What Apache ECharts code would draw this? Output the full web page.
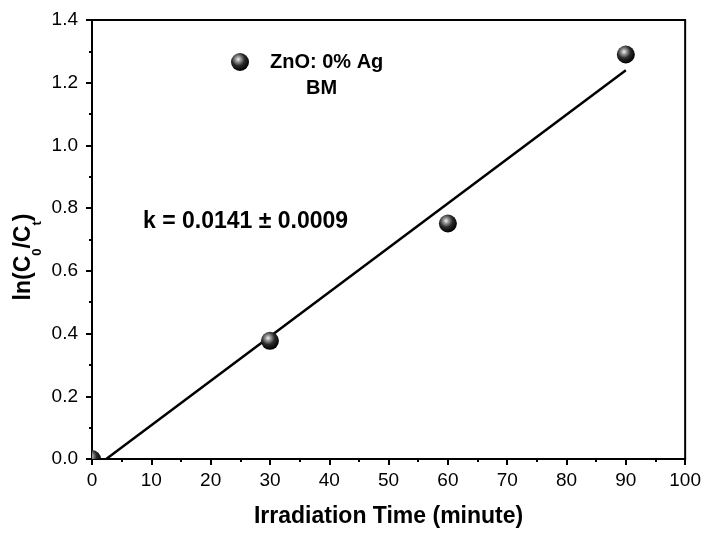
<!DOCTYPE html>
<html>
<head>
<meta charset="utf-8">
<script src="https://cdn.jsdelivr.net/npm/echarts@6/dist/echarts.min.js"></script>
<style>
html,body{margin:0;padding:0;background:#fff;}
#c{width:704px;height:537px;}
</style>
</head>
<body>
<div id="c"></div>
<script>
// Data
const timeMin = [0, 30, 60, 90];
const lnRatio = [0, 0.377, 0.751, 1.29];
const fitX = [2.4, 90];
const fitY = [0, 1.24];
const legendLines = ['ZnO: 0% Ag', 'BM'];
const rateText = 'k = 0.0141 \u00b1 0.0009';
const xTitle = 'Irradiation Time (minute)';

const FONT = '"Liberation Sans", Arial, sans-serif';

function sphere() {
  return new echarts.graphic.RadialGradient(0.4, 0.35, 0.65, [
    { offset: 0, color: '#f2f2f2' },
    { offset: 0.22, color: '#9a9a9a' },
    { offset: 0.55, color: '#2a2a2a' },
    { offset: 1, color: '#000' }
  ]);
}

const chart = echarts.init(document.getElementById('c'), null, { renderer: 'canvas' });

const option = {
  animation: false,
  backgroundColor: '#fff',
  grid: {
    left: 92, right: 18, top: 20, bottom: 78,
    show: true, borderColor: '#000', borderWidth: 2, backgroundColor: 'transparent'
  },
  xAxis: {
    type: 'value', min: 0, max: 100, interval: 10,
    name: xTitle, nameLocation: 'middle', nameGap: 46,
    nameTextStyle: { fontFamily: FONT, fontSize: 23, fontWeight: 'bold', color: '#000' },
    axisLine: { show: true, lineStyle: { color: '#000', width: 2 } },
    axisTick: { show: true, inside: false, length: 6, lineStyle: { color: '#000', width: 2 } },
    minorTick: { show: true, splitNumber: 2, length: 3, lineStyle: { color: '#000', width: 2 } },
    splitLine: { show: false },
    axisLabel: { fontFamily: FONT, fontSize: 19, color: '#000', margin: 12 }
  },
  yAxis: {
    type: 'value', min: 0, max: 1.4, interval: 0.2,
    axisLine: { show: true, lineStyle: { color: '#000', width: 2 } },
    axisTick: { show: true, inside: false, length: 6, lineStyle: { color: '#000', width: 2 } },
    minorTick: { show: true, splitNumber: 2, length: 3, lineStyle: { color: '#000', width: 2 } },
    splitLine: { show: false },
    axisLabel: {
      fontFamily: FONT, fontSize: 19, color: '#000', margin: 14,
      formatter: v => v.toFixed(1)
    }
  },
  series: [
    {
      type: 'line',
      data: fitX.map((x, i) => [x, fitY[i]]),
      showSymbol: false,
      lineStyle: { color: '#000', width: 2.5 },
      z: 2
    },
    {
      type: 'custom',
      clip: true,
      data: timeMin.map((x, i) => [x, lnRatio[i]]),
      renderItem: function (params, api) {
        const p = api.coord([api.value(0), api.value(1)]);
        return {
          type: 'circle',
          shape: { cx: p[0], cy: p[1], r: 9 },
          style: { fill: sphere() }
        };
      },
      z: 3
    }
  ],
  graphic: [
    {
      type: 'circle', shape: { cx: 240, cy: 62, r: 9 },
      style: { fill: sphere() }
    },
    {
      type: 'text', x: 270, y: 62,
      style: { text: legendLines[0], fontFamily: FONT, fontSize: 20, fontWeight: 'bold',
        fill: '#000', align: 'left', verticalAlign: 'middle' }
    },
    {
      type: 'text', x: 321.5, y: 88,
      style: { text: legendLines[1], fontFamily: FONT, fontSize: 20, fontWeight: 'bold',
        fill: '#000', align: 'center', verticalAlign: 'middle' }
    },
    {
      type: 'text', x: 143, y: 222,
      style: { text: rateText, fontFamily: FONT, fontSize: 23, fontWeight: 'bold',
        fill: '#000', align: 'left', verticalAlign: 'middle' }
    },
    {
      type: 'text', x: 24, y: 257, rotation: Math.PI / 2,
      style: {
        text: '{a|ln(C}{s|0}{a|/C}{s|t}{a|)}',
        align: 'center', verticalAlign: 'middle',
        rich: {
          a: { fontFamily: FONT, fontSize: 23, fontWeight: 'bold', fill: '#000', color: '#000', lineHeight: 40 },
          s: { fontFamily: FONT, fontSize: 13, fontWeight: 'bold', fill: '#000', color: '#000', lineHeight: 13, verticalAlign: 'bottom' }
        }
      }
    }
  ]
};

chart.setOption(option);
</script>
</body>
</html>
